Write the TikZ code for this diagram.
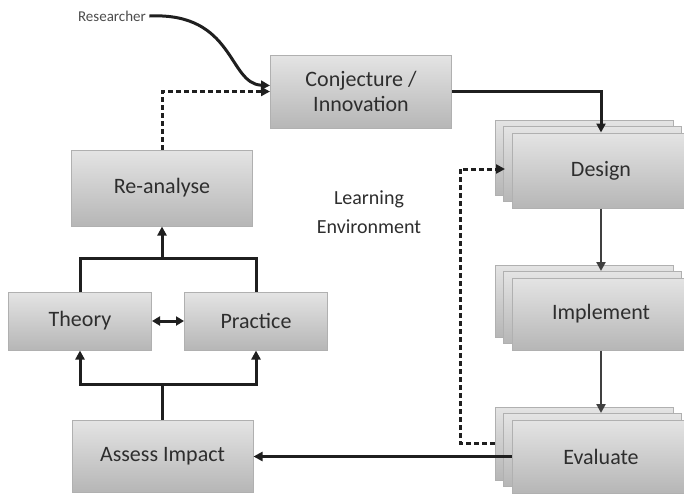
\documentclass[tikz,border=0pt]{standalone}
\usepackage{fontspec}
\setmainfont{Carlito}
\usetikzlibrary{arrows.meta,calc}
\definecolor{boxtop}{HTML}{E4E4E4}
\definecolor{boxbot}{HTML}{B6B6B6}
\definecolor{boxline}{HTML}{B0B0B0}
\definecolor{txt}{HTML}{2E2E2E}
\tikzset{
  gbox/.style={draw=boxline, line width=1pt, top color=boxtop, bottom color=boxbot,
    minimum width=#1, inner sep=2pt, text=txt, align=center,
    font=\fontsize{22}{25}\selectfont},
  gbox/.default=181pt,
  conn/.style={line width=3pt, draw=black!88, -{Triangle[length=9pt,width=9pt]}},
  plain/.style={line width=3pt, draw=black!88},
  thin/.style={line width=2.2pt, draw=black!75, -{Triangle[length=9pt,width=9pt]}},
  dashconn/.style={line width=3pt, draw=black!88, dash pattern=on 5pt off 3pt, -{Triangle[length=9pt,width=9pt]}},
  lbl/.style={text=txt, align=center}
}
\begin{document}
\begin{tikzpicture}[x=1pt,y=-1pt]
\useasboundingbox (0,0) rectangle (684,496);
\clip (0,0) rectangle (684,496);
% left boxes
\node[gbox, minimum height=73pt] (conj) at (361,91.5) {Conjecture /\\Innovation};
\node[gbox, minimum height=76pt] (reana) at (162,188) {Re-analyse};
\node[gbox=143pt, minimum height=58pt] (theory) at (80,321) {Theory};
\node[gbox=143pt, minimum height=58pt] (practice) at (256,321) {Practice};
\node[gbox, minimum height=72pt] (assess) at (162.5,456) {Assess Impact};
% stacked boxes
\node[gbox=178pt, minimum height=75pt] (des3) at (584,157.5) {};
\node[gbox=178pt, minimum height=75pt] (des2) at (592.5,164) {};
\node[gbox=178pt, minimum height=75pt] (des) at (601,170.5) {Design};
\node[gbox=178pt, minimum height=72pt] (imp3) at (584,301) {};
\node[gbox=178pt, minimum height=72pt] (imp2) at (592.5,307.5) {};
\node[gbox=178pt, minimum height=72pt] (imp) at (601,314) {Implement};
\node[gbox=178pt, minimum height=73pt] (eva3) at (584,443.5) {};
\node[gbox=178pt, minimum height=73pt] (eva2) at (592.5,450) {};
\node[gbox=178pt, minimum height=73pt] (eva) at (601,456.5) {Evaluate};
% texts
\node[lbl, text=black!70, font=\fontsize{15}{18}\selectfont] (res) at (112,16) {Researcher};
\node[lbl, font=\fontsize{20}{29}\selectfont] (learn) at (369,212) {Learning\\Environment};
% connectors
\draw[conn] (res.east) .. controls (235,12) and (228,84) .. ($(conj.west)+(0,-6)$);
\draw[dashconn] (reana.north) |- (conj.west);
\draw[conn] (conj.east) -| (des.north);
\draw[thin] (des.south) -- (des.south |- imp2.north);
\draw[thin] (imp.south) -- (imp.south |- eva2.north);
\draw[conn] (eva.west) -- (eva.west -| assess.east);
\coordinate (dl) at (460,0);
\draw[dashconn] (eva3.west) -- (eva3.west -| dl) |- ($(des2.west)+(2,5)$);
\coordinate (tj) at (162,258);
\coordinate (bj) at (162.5,384);
\draw[plain] (theory.north) |- (tj);
\draw[plain] (practice.north) |- (tj);
\draw[conn] (tj) -- (reana.south);
\draw[plain] (assess.north) -- (bj);
\draw[conn] (bj) -| (theory.south);
\draw[conn] (bj) -| (practice.south);
\draw[line width=3pt, draw=black!88, {Triangle[length=8pt,width=9pt]}-{Triangle[length=8pt,width=9pt]}] (theory.east) -- (practice.west);
\end{tikzpicture}
\end{document}
